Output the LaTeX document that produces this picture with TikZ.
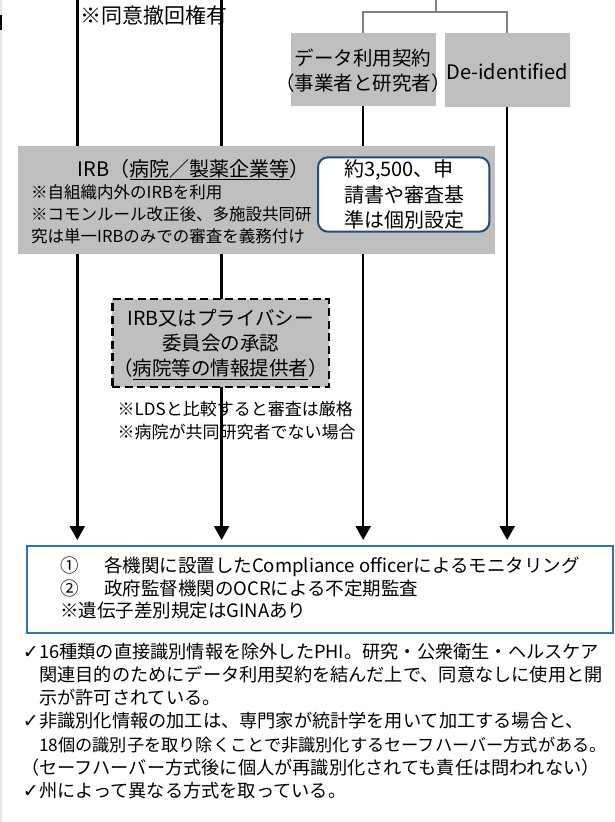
\documentclass[tikz,border=0pt]{standalone}
\usepackage{fontspec}
\setmainfont{Noto Sans CJK JP}
\newfontfamily\dejavu{DejaVu Sans}
\usetikzlibrary{arrows.meta,backgrounds}
\definecolor{boxgray}{RGB}{191,191,191}
\definecolor{conngray}{RGB}{128,128,128}
\definecolor{darkblue}{RGB}{31,78,121}
\definecolor{midblue}{RGB}{46,117,182}
\definecolor{edgegray}{RGB}{228,228,236}
\newcommand{\fs}[2]{\fontsize{#1}{#2}\selectfont}
\newcommand{\chk}{\llap{{\dejavu\fontsize{19}{19}\selectfont ✓}\hspace{0.5pt}}}
\begin{document}
\begin{tikzpicture}[x=1pt,y=-1pt,
  graybox/.style={fill=boxgray, draw=none, inner sep=0pt},
  txt/.style={inner sep=0pt, text=black},
  conn/.style={line width=2.4pt, -{Triangle[length=14pt,width=15pt]}, shorten >=5pt},
  greyline/.style={line width=2pt, draw=conngray},
]
\useasboundingbox (0,0) rectangle (614,822);
\begin{scope}[on background layer]
\fill[white] (0,0) rectangle (614,822);
\draw[edgegray, line width=1.4pt] (1.0,0) -- (1.0,822);
\fill[black] (0,15) rectangle (1.8,30);
\end{scope}

% top note
\node[txt, anchor=west, font=\fs{21}{25}] (cons) at (80,15) {※同意撤回権有};

% data use agreement / de-identified
\node[graybox, minimum width=145.3pt, minimum height=72.4pt] (dua) at (363.2,69.5) {};
\node[txt, align=center, font=\fs{19.5}{25}] (duat) at (363.2,70.5) {データ利用契約\\（事業者と研究者）};
\node[graybox, minimum width=124.9pt, minimum height=73.4pt] (deid) at (507.2,70) {};
\node[txt, font=\fs{20}{24}] (deidt) at (507.2,71.7) {De-identified};

% grey connector at top
\coordinate (gtop) at (436,0);
\coordinate (gj) at (436,12);
\draw[greyline] (gtop) -- (gj);
\draw[greyline] (gj) -| (dua.north);
\draw[greyline] (gj) -| (deid.north);

% IRB box
\node[graybox, minimum width=476.1pt, minimum height=108.3pt] (irb) at (256.45,199.85) {};
\node[txt, font=\fs{20}{24}] (irbt) at (193.7,169.3) {IRB（\underline{病院／製薬企業等}）};
\node[txt, anchor=west, align=left, font=\fs{16.5}{22.2}] (irbn) at (31,214) {※自組織内外のIRBを利用\\※コモンルール改正後、多施設共同研\\究は単一IRBのみでの審査を義務付け};

% rounded note box
\node[draw=darkblue, line width=2pt, fill=white, rounded corners=10pt, minimum width=171.4pt, minimum height=74.4pt, inner sep=0pt] (num) at (403.7,194.5) {};
\node[txt, align=left, font=\fs{20}{25.4}] (numt) at (404,194.7) {約3,500、申\\請書や審査基\\準は個別設定};

% dashed box
\node[graybox, draw=black, line width=2.2pt, dash pattern=on 8pt off 4.5pt, minimum width=216.5pt, minimum height=88pt] (irb2) at (220.65,343.3) {};
\node[txt, align=center, font=\fs{19.5}{25}] (irb2t) at (220.65,344.5) {IRB又はプライバシー\\委員会の承認\\（\underline{病院等の情報提供者}）};

% notes under dashed box
\node[txt, anchor=west, align=left, font=\fs{17}{22.4}] (ldsn) at (117.5,420.5) {※LDSと比較すると審査は厳格\\※病院が共同研究者でない場合};

% monitoring box
\node[draw=midblue, line width=2pt, fill=white, minimum width=585.9pt, minimum height=87pt, inner sep=0pt] (mon) at (319.55,589.5) {};
\node[txt, anchor=west, align=left, font=\fs{18.5}{22.5}] (mont) at (60,588) {\makebox[44pt][l]{①}各機関に設置したCompliance officerによるモニタリング\\\makebox[44pt][l]{②}政府監督機関のOCRによる不定期監査\\※遺伝子差別規定はGINAあり};

% connectors
\coordinate (t1) at (77.3,0);
\coordinate (t2) at (221.6,0);
\begin{scope}[on background layer]
\draw[conn] (t1) -- (t1 |- mon.north);
\draw[conn] (t2) -- (t2 |- mon.north);
\draw[conn] (dua.south) -- (dua.south |- mon.north);
\draw[conn] (deid.south) -- (deid.south |- mon.north);
\end{scope}

% bullet text
\node[txt, anchor=west, align=left, font=\fs{18.2}{23.3}] (bul) at (39,721) {\chk 16種類の直接識別情報を除外したPHI。研究・公衆衛生・ヘルスケア\\関連目的のためにデータ利用契約を結んだ上で、同意なしに使用と開\\示が許可されている。\\\chk 非識別化情報の加工は、専門家が統計学を用いて加工する場合と、\\{\fontsize{17.2}{23.3}\selectfont 18個の識別子を取り除くことで非識別化するセーフハーバー方式がある。}\\\llap{（}セーフハーバー方式後に個人が再識別化されても責任は問われない）\\\chk 州によって異なる方式を取っている。};
\end{tikzpicture}
\end{document}
